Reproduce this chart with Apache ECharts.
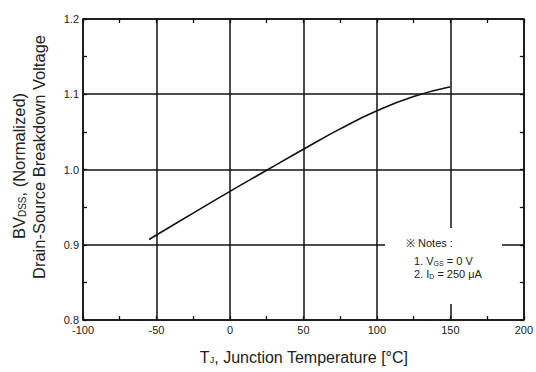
<!DOCTYPE html>
<html><head><meta charset="utf-8">
<script src="https://cdn.jsdelivr.net/npm/echarts@6/dist/echarts.min.js"></script>
<style>html,body{margin:0;padding:0;background:#fff}#c{width:536px;height:372px}</style>
</head><body><div id="c"></div>
<script>
const temps = [-55, -50, -25, 0, 25, 50, 75, 100, 125, 150];
const bvNorm = [0.907, 0.913, 0.942, 0.971, 0.999, 1.027, 1.054, 1.078, 1.097, 1.110];
const xTicks = [-100, -50, 0, 50, 100, 150, 200];
const yTicks = [0.8, 0.9, 1.0, 1.1, 1.2];

const chart = echarts.init(document.getElementById('c'), null, {renderer: 'svg'});
const F = 'Liberation Sans, Arial, sans-serif';
const lineCol = '#111';
const baseAxis = {
  axisLine: {show: true, onZero: false, lineStyle: {color: lineCol, width: 1.5}},
  axisTick: {show: true, inside: true, length: 4, lineStyle: {color: lineCol, width: 1.3}},
  minorTick: {show: true, splitNumber: 2, length: 4, lineStyle: {color: lineCol, width: 1.3}},
};
const sub = {fontSize: 9, fontFamily: F, fill: '#222', padding: [6, 0, 0, 0]};
chart.setOption({
  animation: false,
  grid: {left: 83, right: 9, top: 19, bottom: 52},
  xAxis: [
    Object.assign({}, baseAxis, {
      type: 'value', min: -100, max: 200, interval: 50, position: 'bottom',
      axisLabel: {color: '#222', fontFamily: F, fontSize: 11, margin: 4,
        formatter: v => xTicks.includes(v) ? String(v) : ''},
      splitLine: {show: true, lineStyle: {color: lineCol, width: 1.5}},
    }),
    Object.assign({}, baseAxis, {
      type: 'value', min: -100, max: 200, interval: 50, position: 'top',
      axisLabel: {show: false}, splitLine: {show: false},
    })
  ],
  yAxis: [
    Object.assign({}, baseAxis, {
      type: 'value', min: 0.8, max: 1.2, interval: 0.1, position: 'left',
      axisLabel: {color: '#222', fontFamily: F, fontSize: 11, margin: 4,
        formatter: v => yTicks.some(t => Math.abs(t - v) < 1e-6) ? v.toFixed(1) : ''},
      splitLine: {show: true, lineStyle: {color: lineCol, width: 1.5}},
    }),
    Object.assign({}, baseAxis, {
      type: 'value', min: 0.8, max: 1.2, interval: 0.1, position: 'right',
      axisLabel: {show: false}, splitLine: {show: false},
    })
  ],
  series: [{
    type: 'line', smooth: true, showSymbol: false, xAxisIndex: 0, yAxisIndex: 0,
    lineStyle: {color: '#111', width: 1.6},
    data: temps.map((t, i) => [t, bvNorm[i]])
  }],
  graphic: [
    {type: 'rect', shape: {x: 385, y: 228, width: 117, height: 76}, style: {fill: '#fff'}, z: 100},
    {type: 'text', x: 406, y: 243, z: 101, style: {text: '※ Notes :', font: '11px ' + F, fill: '#222', verticalAlign: 'middle'}},
    {type: 'text', x: 414, y: 261, z: 101, style: {
      text: '{a|1. V}{s|GS}{a| = 0 V}', fill: '#222', verticalAlign: 'middle',
      rich: {a: {fontSize: 11, fontFamily: F, fill: '#222'}, s: {fontSize: 7, fontFamily: F, fill: '#222', padding: [5, 0, 0, 0]}}}},
    {type: 'text', x: 414, y: 274, z: 101, style: {
      text: '{a|2. I}{s|D}{a| = 250 μA}', fill: '#222', verticalAlign: 'middle',
      rich: {a: {fontSize: 11, fontFamily: F, fill: '#222'}, s: {fontSize: 7, fontFamily: F, fill: '#222', padding: [5, 0, 0, 0]}}}},
    {type: 'text', x: 304, y: 357, z: 101, style: {
      text: '{a|T}{s|J}{a|, Junction Temperature [°C]}', align: 'center', verticalAlign: 'middle',
      rich: {a: {fontSize: 16, fontFamily: F, fill: '#222'}, s: sub}}},
    {type: 'text', x: 19, y: 166, rotation: Math.PI / 2, z: 101, style: {
      text: '{a|BV}{s|DSS}{a|, (Normalized)}', align: 'center', verticalAlign: 'middle',
      rich: {a: {fontSize: 16.5, fontFamily: F, fill: '#222'}, s: {fontSize: 10, fontFamily: F, fill: '#222', padding: [6, 0, 0, 0]}}}},
    {type: 'text', x: 39, y: 157, rotation: Math.PI / 2, z: 101, style: {
      text: 'Drain-Source Breakdown Voltage', align: 'center', verticalAlign: 'middle',
      font: '16.5px ' + F, fill: '#222'}}
  ]
});
</script></body></html>
